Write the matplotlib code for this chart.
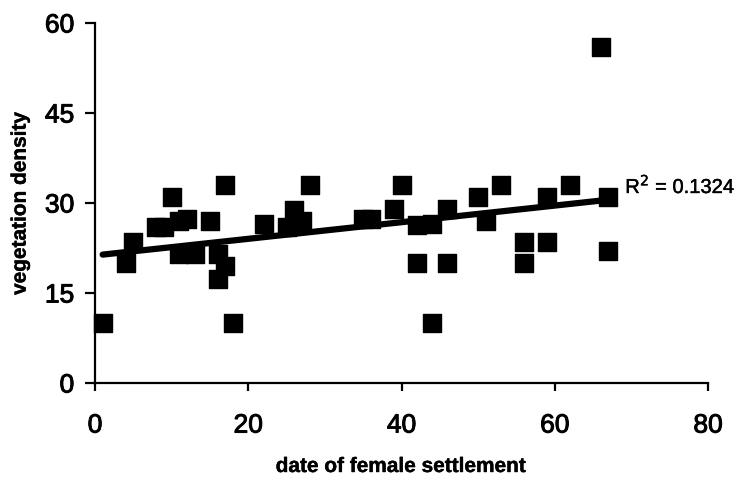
import numpy as np
import matplotlib
matplotlib.use("Agg")
import matplotlib.pyplot as plt
import matplotlib.patheffects as pe

plt.rcParams["font.family"] = ["Liberation Sans", "DejaVu Sans"]

# settlement day vs. vegetation density at the nest site
settle_day = [1, 4, 5, 8, 9, 10, 11, 12, 11, 13, 15, 16, 17, 16, 17, 18,
              22, 25, 26, 27, 28, 35, 36, 39, 40, 42, 44, 42, 46, 46, 44,
              50, 51, 53, 56, 56, 59, 59, 62, 67, 67, 66]
veg_density = [10, 20, 23.5, 26, 26, 31, 27, 27.3, 21.5, 21.5, 27, 21.5, 19.5, 17.3, 33, 10,
               26.5, 26, 28.8, 27, 33, 27.3, 27.3, 29, 33, 26.3, 26.5, 20, 20, 29, 10,
               31, 27, 33, 23.5, 20, 23.5, 31, 33, 31, 22, 56]
r2_label = "R$^2$ = 0.1324"

x = np.array(settle_day, dtype=float)
y = np.array(veg_density, dtype=float)
slope, icpt = np.polyfit(x, y, 1)

# heavier strokes on the text
thick = [pe.withStroke(linewidth=0.7, foreground="black")]
light = [pe.withStroke(linewidth=0.3, foreground="black")]

fig = plt.figure(figsize=(7.44, 4.85), dpi=100)
ax = fig.add_axes([95 / 744, 1 - 384 / 485, 613 / 744, 360 / 485])

ax.scatter(x, y, marker="s", s=150, color="black", zorder=3, clip_on=False)
xf = np.array([x.min(), x.max()])
ax.plot(xf, icpt + slope * xf, color="black", lw=4.5, solid_capstyle="round", zorder=2)
ax.text(69.2, 32.8, r2_label, fontsize=14.5, va="center", ha="left", path_effects=light)

ax.set_xlim(0, 80)
ax.set_ylim(0, 60)
ax.set_xticks([0, 20, 40, 60, 80])
ax.set_yticks([0, 15, 30, 45, 60])
for side in ("top", "right"):
    ax.spines[side].set_visible(False)
for side in ("left", "bottom"):
    ax.spines[side].set_linewidth(1.6)
ax.tick_params(axis="y", length=7, width=1.6, labelsize=19, pad=8)
ax.tick_params(axis="x", length=6, width=1.6, labelsize=19, pad=16)
for lbl in ax.get_xticklabels() + ax.get_yticklabels():
    lbl.set_path_effects(thick)

ax.set_xlabel("date of female settlement", fontsize=15, fontweight="bold", labelpad=14,
              path_effects=light)
ax.set_ylabel("vegetation density", fontsize=15, fontweight="bold", labelpad=11,
              path_effects=light)

fig.savefig("out.png", dpi=100)
